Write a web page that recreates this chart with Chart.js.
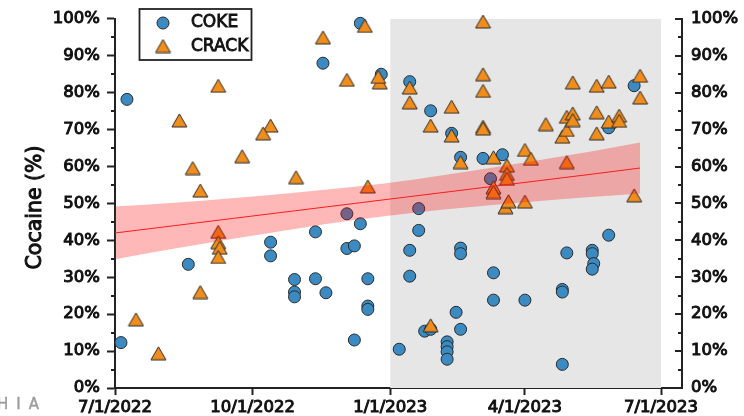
<!DOCTYPE html>
<html>
<head>
<meta charset="utf-8">
<script src="https://cdn.jsdelivr.net/npm/chart.js@4/dist/chart.umd.min.js"></script>
<style>
  html, body { margin: 0; padding: 0; background: #fff; }
  #wrap { position: relative; width: 744px; height: 416px; overflow: hidden; }
  #mark { position: absolute; left: -3px; top: 395px; font: 15px "DejaVu Sans", sans-serif;
          color: #9c9c9c; letter-spacing: 8px; white-space: nowrap;
          -webkit-text-stroke: 0.4px #9c9c9c; }
</style>
</head>
<body>
<div id="wrap">
  <canvas id="c" width="744" height="416"></canvas>
  <div id="mark">HIA</div>
</div>
<script>
// x values are days after 7/1/2022
const axisStartDay = 0;
const axisEndDay = 379;
const tickDays = [0, 92, 184, 274, 365];
const tickLabels = ['7/1/2022', '10/1/2022', '1/1/2023', '4/1/2023', '7/1/2023'];
const shadeDays = [184, 365]; // 1/1/2023 – 7/1/2023

// Powder cocaine ("COKE") samples: day, cocaine %
const cokeDay = [8, 4, 49, 104, 104, 120, 120, 120, 134, 134, 139, 141, 155, 155, 160, 160,
  164, 164, 169, 169, 169, 178, 190, 197, 197, 197, 203, 203, 211, 207, 211, 222, 222, 222, 222,
  225, 228, 231, 231, 231, 231, 246, 251, 253, 253, 259, 274, 299, 299, 299, 302, 319, 319, 320,
  319, 330, 330, 347];
const cokePct = [78.2, 12.3, 33.5, 39.5, 35.8, 29.4, 26.0, 24.7, 42.3, 29.6, 88.0, 25.8, 47.2,
  37.8, 38.5, 13.0, 44.5, 98.8, 29.6, 22.2, 21.3, 85.0, 10.5, 83.0, 37.3, 30.3, 48.6, 42.7, 75.1,
  15.4, 15.9, 12.5, 11.2, 9.8, 7.8, 69.0, 20.5, 62.5, 37.9, 36.4, 15.9, 62.2, 56.7, 31.2, 23.8,
  63.2, 23.8, 26.7, 26.0, 6.4, 36.6, 37.3, 36.4, 33.7, 32.2, 41.4, 70.5, 81.9];

// Crack samples: day, cocaine %
const crackDay = [43, 69, 104, 99, 85, 52, 121, 57, 167, 139, 155, 177, 176, 197, 197, 211, 225,
  225, 231, 246, 246, 246, 246, 246, 169, 253, 274, 278, 302, 288, 299, 302, 302, 306, 306, 306,
  322, 330, 322, 322, 330, 337, 337, 351, 351, 347, 262, 262, 262, 253, 253, 261, 263, 274, 69,
  69, 70, 69, 57, 14, 29, 211];
const crackPct = [72.5, 81.9, 71.1, 69.0, 62.8, 59.6, 57.1, 53.5, 98.1, 95.0, 83.5, 82.8, 84.3,
  81.4, 77.4, 71.1, 76.2, 68.4, 61.2, 99.3, 85.0, 80.5, 70.8, 70.3, 54.6, 62.5, 64.5, 62.1, 61.2,
  71.5, 68.1, 69.9, 73.5, 74.4, 72.6, 82.8, 81.9, 83.0, 74.7, 69.0, 72.2, 73.8, 72.4, 84.6, 78.7,
  52.2, 60.3, 58.0, 56.7, 54.4, 53.1, 49.0, 50.6, 50.5, 42.3, 39.5, 38.0, 35.5, 26.0, 18.6, 9.4,
  17.0];

// Linear trend with its confidence band
const fitDay = [0, 40, 80, 120, 160, 200, 240, 280, 320, 351];
const fitPct = [42.0, 44.0, 46.0, 48.0, 50.0, 52.0, 54.0, 56.0, 58.0, 59.6];
const ciHigh = [49.2, 50.2, 51.5, 52.9, 54.5, 56.5, 58.9, 61.5, 64.2, 66.5];
const ciLow  = [34.9, 37.8, 40.5, 43.1, 45.5, 47.5, 49.1, 50.5, 51.8, 52.7];

const yTicks = [0, 10, 20, 30, 40, 50, 60, 70, 80, 90, 100];

const seriesNames = ['COKE', 'CRACK'];
const yTitle = 'Cocaine (%)';
const COKE_FILL = '#3b8bc2';
const CRACK_FILL = '#f08d1c';
const EDGE = '#2a2a2a';
const AXIS = '#222';
const INK = '#111';
const FONT = '"DejaVu Sans", sans-serif';

// triangle marker, centred on its bounding box
function makeTriangle() {
  const c = document.createElement('canvas');
  c.width = 17; c.height = 15;
  const g = c.getContext('2d');
  g.beginPath();
  g.moveTo(8.5, 1);
  g.lineTo(16, 14);
  g.lineTo(1, 14);
  g.closePath();
  g.fillStyle = CRACK_FILL;
  g.fill();
  g.lineWidth = 1;
  g.strokeStyle = EDGE;
  g.stroke();
  return c;
}
const triangle = makeTriangle();

const pts = (xs, ys) => xs.map((x, i) => ({ x, y: ys[i] }));

function boldText(ctx, text, x, y, w) {
  ctx.fillText(text, x, y);
  ctx.lineWidth = w;
  ctx.strokeText(text, x, y);
}

const decor = {
  id: 'decor',
  beforeDatasetsDraw(chart) {
    const { ctx, chartArea: a, scales: { x } } = chart;
    const x1 = x.getPixelForValue(shadeDays[0]);
    const x2 = x.getPixelForValue(shadeDays[1]);
    ctx.save();
    ctx.fillStyle = '#e6e6e6';
    ctx.fillRect(x1, a.top, x2 - x1, a.bottom - a.top);
    ctx.restore();
  },
  afterDraw(chart) {
    const { ctx, chartArea: a, scales: { y } } = chart;
    ctx.save();
    ctx.strokeStyle = AXIS;
    ctx.lineWidth = 2;
    // minor ticks on the left axis, all ticks on the right axis (pointing inward)
    for (let v = 0; v <= 100; v += 5) {
      const py = Math.round(y.getPixelForValue(v));
      const major = v % 10 === 0;
      ctx.beginPath();
      if (!major) {
        ctx.moveTo(a.left - 4, py);
        ctx.lineTo(a.left, py);
      }
      ctx.moveTo(a.right - (major ? 7 : 4), py);
      ctx.lineTo(a.right, py);
      ctx.stroke();
    }
    // y-axis title
    ctx.save();
    ctx.translate(36, (a.top + a.bottom) / 2 + 4);
    ctx.rotate(-Math.PI / 2);
    ctx.font = '20.5px ' + FONT;
    ctx.fillStyle = INK;
    ctx.strokeStyle = INK;
    ctx.textAlign = 'center';
    ctx.textBaseline = 'middle';
    boldText(ctx, yTitle, 0, 0, 1.0);
    ctx.restore();
    // legend
    const lx = 139.5, ly = 9, lw = 112, lh = 51;
    ctx.fillStyle = '#fff';
    ctx.fillRect(lx, ly, lw, lh);
    ctx.lineWidth = 1.8;
    ctx.strokeStyle = AXIS;
    ctx.strokeRect(lx, ly, lw, lh);
    ctx.beginPath();
    ctx.arc(163, 23, 6, 0, Math.PI * 2);
    ctx.fillStyle = COKE_FILL;
    ctx.fill();
    ctx.lineWidth = 1;
    ctx.strokeStyle = EDGE;
    ctx.stroke();
    ctx.drawImage(triangle, 163 - 8.5, 46 - 7.5);
    ctx.font = '17px ' + FONT;
    ctx.fillStyle = INK;
    ctx.strokeStyle = INK;
    ctx.textBaseline = 'middle';
    ctx.textAlign = 'left';
    boldText(ctx, seriesNames[0], 191, 23, 0.9);
    boldText(ctx, seriesNames[1], 191, 47, 0.9);
    ctx.restore();
  }
};

const tickFont = { family: FONT, size: 16.5 };

new Chart(document.getElementById('c'), {
  type: 'scatter',
  data: {
    datasets: [
      { type: 'line', label: 'fit', data: pts(fitDay, fitPct), borderColor: '#ff1a1a',
        borderWidth: 1, pointRadius: 0, fill: false, order: 0 },
      { type: 'line', label: 'ciHigh', data: pts(fitDay, ciHigh), borderColor: 'rgba(0,0,0,0)',
        borderWidth: 1, pointRadius: 0, fill: '+1', backgroundColor: 'rgba(255,0,0,0.28)',
        cubicInterpolationMode: 'monotone', order: 1 },
      { type: 'line', label: 'ciLow', data: pts(fitDay, ciLow), borderColor: 'rgba(0,0,0,0)',
        borderWidth: 1, pointRadius: 0, fill: false, cubicInterpolationMode: 'monotone', order: 2 },
      { label: seriesNames[1], data: pts(crackDay, crackPct), pointStyle: triangle,
        clip: false, order: 3 },
      { label: seriesNames[0], data: pts(cokeDay, cokePct), pointStyle: 'circle', pointRadius: 6,
        backgroundColor: COKE_FILL, borderColor: EDGE, borderWidth: 1, clip: false, order: 4 }
    ]
  },
  options: {
    responsive: false,
    animation: false,
    events: [],
    layout: { padding: { top: 18, left: 0, right: 0, bottom: 0 } },
    plugins: { legend: { display: false }, tooltip: { enabled: false } },
    scales: {
      x: {
        type: 'linear', min: axisStartDay, max: axisEndDay,
        afterFit(s) { s.height = 28; },
        afterBuildTicks(s) { s.ticks = tickDays.map(v => ({ value: v })); },
        grid: { drawOnChartArea: false, tickLength: 7, tickWidth: 2, tickColor: AXIS },
        border: { display: true, color: AXIS, width: 2 },
        ticks: {
          font: tickFont, color: INK, padding: 3, maxRotation: 0, autoSkip: false,
          textStrokeColor: INK, textStrokeWidth: 1.0,
          callback: v => tickLabels[tickDays.indexOf(v)]
        }
      },
      y: {
        position: 'left', min: 0, max: 100,
        afterFit(s) { s.width = 115; },
        afterBuildTicks(s) { s.ticks = yTicks.map(v => ({ value: v })); },
        grid: { drawOnChartArea: false, tickLength: 8, tickWidth: 2, tickColor: AXIS },
        border: { display: true, color: AXIS, width: 2 },
        ticks: { font: tickFont, color: INK, padding: 7, textStrokeColor: INK,
                 textStrokeWidth: 1.0, callback: v => v + '%' }
      },
      y2: {
        position: 'right', min: 0, max: 100,
        afterFit(s) { s.width = 62; },
        afterBuildTicks(s) { s.ticks = yTicks.map(v => ({ value: v })); },
        grid: { drawOnChartArea: false, drawTicks: false },
        border: { display: true, color: AXIS, width: 2 },
        ticks: { font: tickFont, color: INK, padding: 9, textStrokeColor: INK,
                 textStrokeWidth: 1.0, callback: v => v + '%' }
      }
    }
  },
  plugins: [decor]
});
</script>
</body>
</html>
